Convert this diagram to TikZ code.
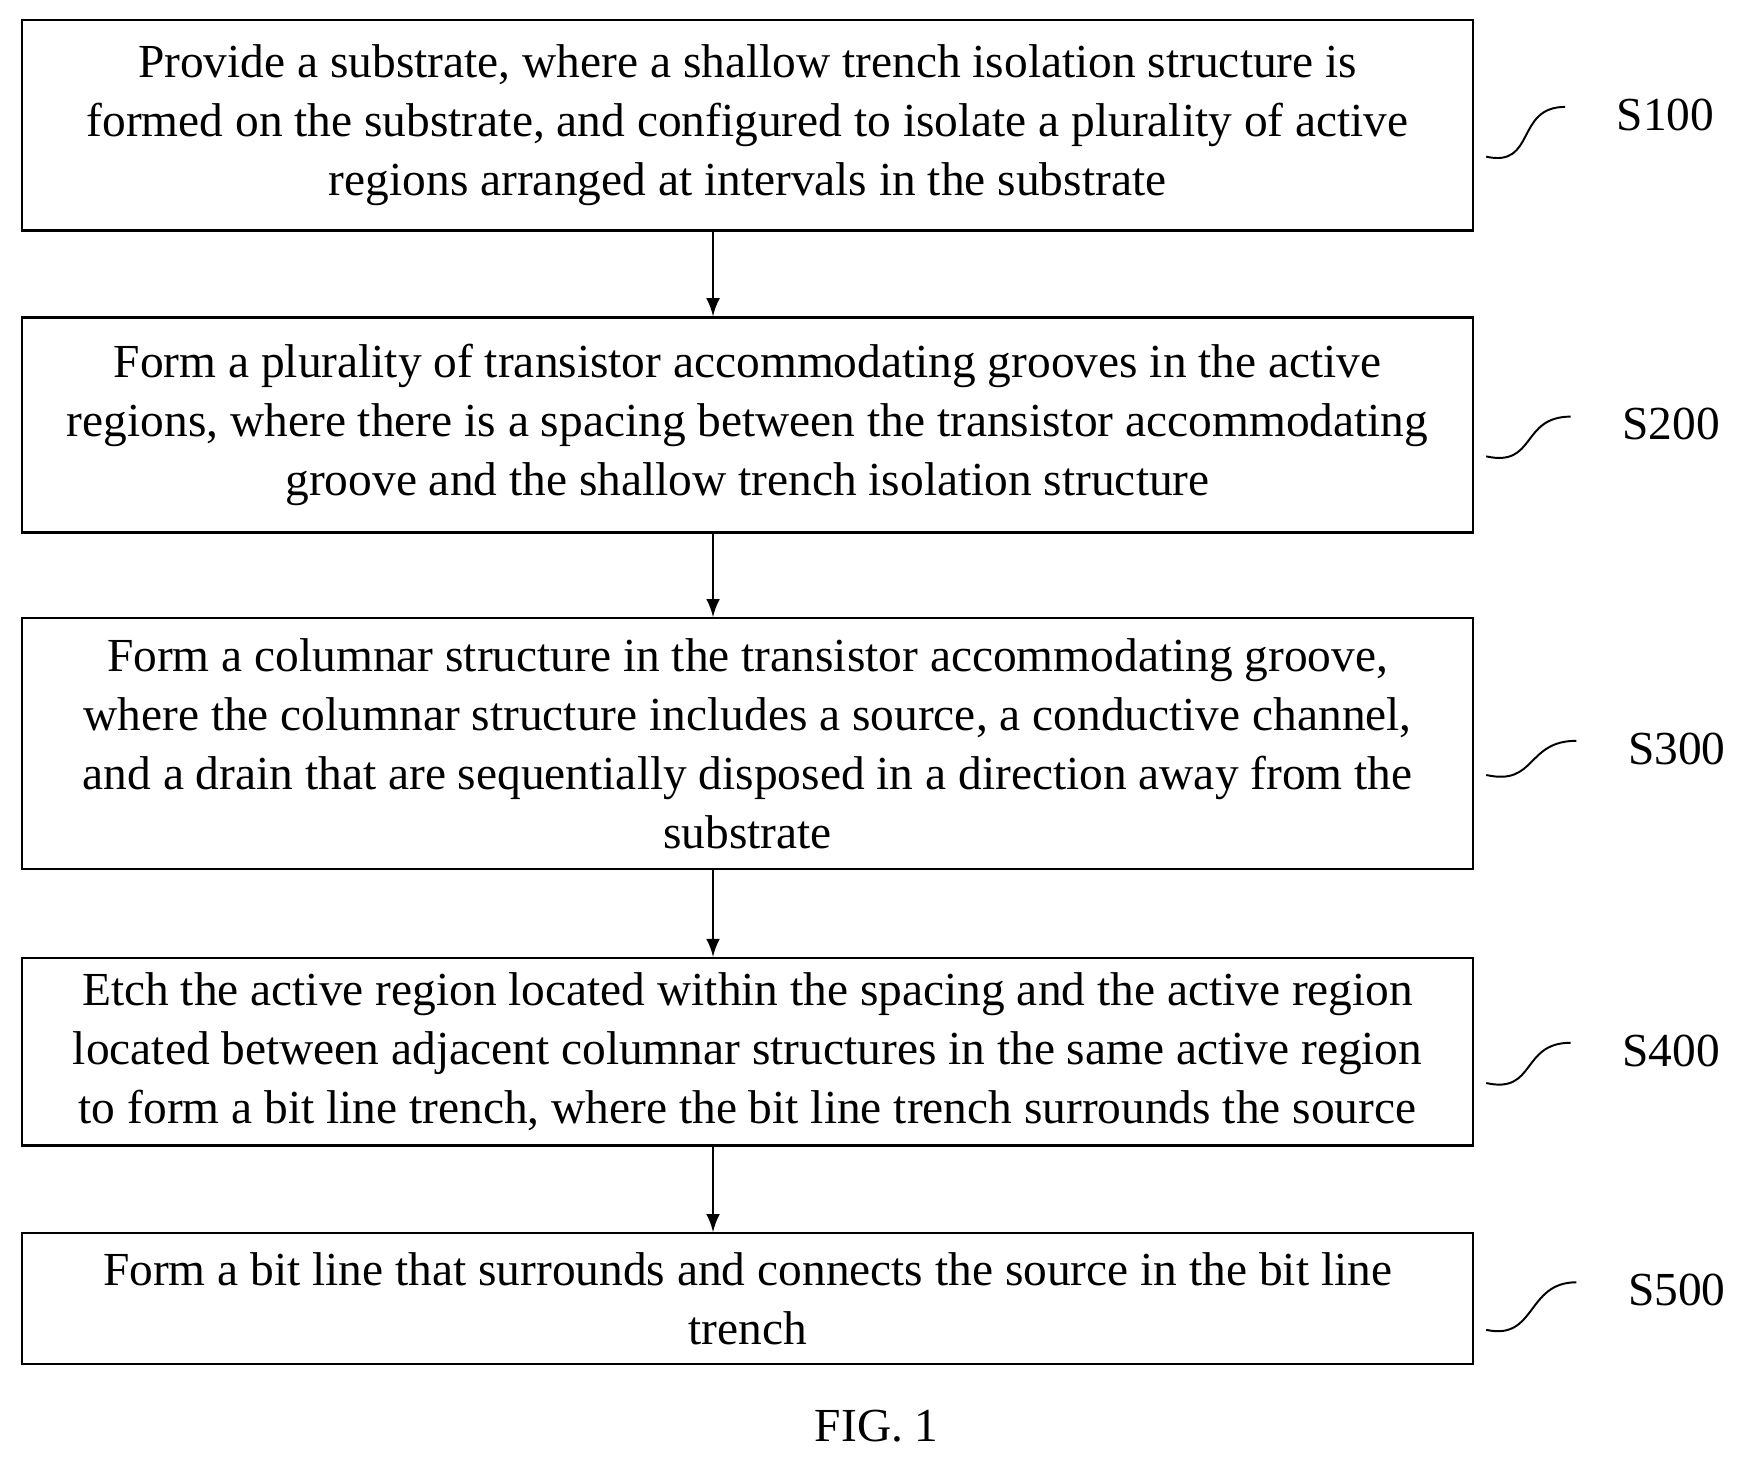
\documentclass[tikz,border=0pt]{standalone}
\usepackage{fontspec}
\setmainfont{Liberation Serif}
\usetikzlibrary{positioning}

\begin{document}
\begin{tikzpicture}[
    x=0.01cm, y=0.01cm,
    stepbox/.style={rectangle, draw, line width=0.6pt, align=center, minimum width=13.02cm, inner sep=0pt, font=\fontsize{12.1}{15.1}\selectfont},
    steplabel/.style={font=\fontsize{12.1}{15}\selectfont, inner sep=1pt},
    squiggle/.style={line width=0.5pt}
]
\useasboundingbox (0,0) rectangle (1560,-1307);

% Steps
\node[stepbox, minimum height=1.89cm] (s100) at (671,-112.5) {Provide a substrate, where a shallow trench isolation structure is\\formed on the substrate, and configured to isolate a plurality of active\\regions arranged at intervals in the substrate};
\node[stepbox, minimum height=1.93cm] (s200) at (671,-381.5) {Form a plurality of transistor accommodating grooves in the active\\regions, where there is a spacing between the transistor accommodating\\groove and the shallow trench isolation structure};
\node[stepbox, minimum height=2.25cm] (s300) at (671,-667.5) {Form a columnar structure in the transistor accommodating groove,\\where the columnar structure includes a source, a conductive channel,\\and a drain that are sequentially disposed in a direction away from the\\substrate};
\node[stepbox, minimum height=1.68cm] (s400) at (671,-944) {Etch the active region located within the spacing and the active region\\located between adjacent columnar structures in the same active region\\to form a bit line trench, where the bit line trench surrounds the source};
\node[stepbox, minimum height=1.17cm] (s500) at (671,-1165.5) {Form a bit line that surrounds and connects the source in the bit line\\trench};

% Labels
\node[steplabel] (l100) at (1495,-103) {S100};
\node[steplabel] (l200) at (1500,-381) {S200};
\node[steplabel] (l300) at (1505,-672) {S300};
\node[steplabel] (l400) at (1500,-943) {S400};
\node[steplabel] (l500) at (1505,-1158) {S500};

\node[steplabel] (fig) at (787,-1280) {FIG. 1};

% Arrows
\foreach \a/\b in {s100/s200, s200/s300, s300/s400, s400/s500}
  \draw[-latex, line width=0.6pt] (\a.south -| 640,0) -- (\b.north -| 640,0);

% Squiggles
\foreach \s/\l in {s100/l100, s200/l200, s300/l300, s400/l400, s500/l500}
  \draw[squiggle] ([xshift=3, yshift=-8]\s.east) .. controls +(45,-10) and +(-45,0) .. ([xshift=-12, yshift=2]\l.west);
\end{tikzpicture}
\end{document}
